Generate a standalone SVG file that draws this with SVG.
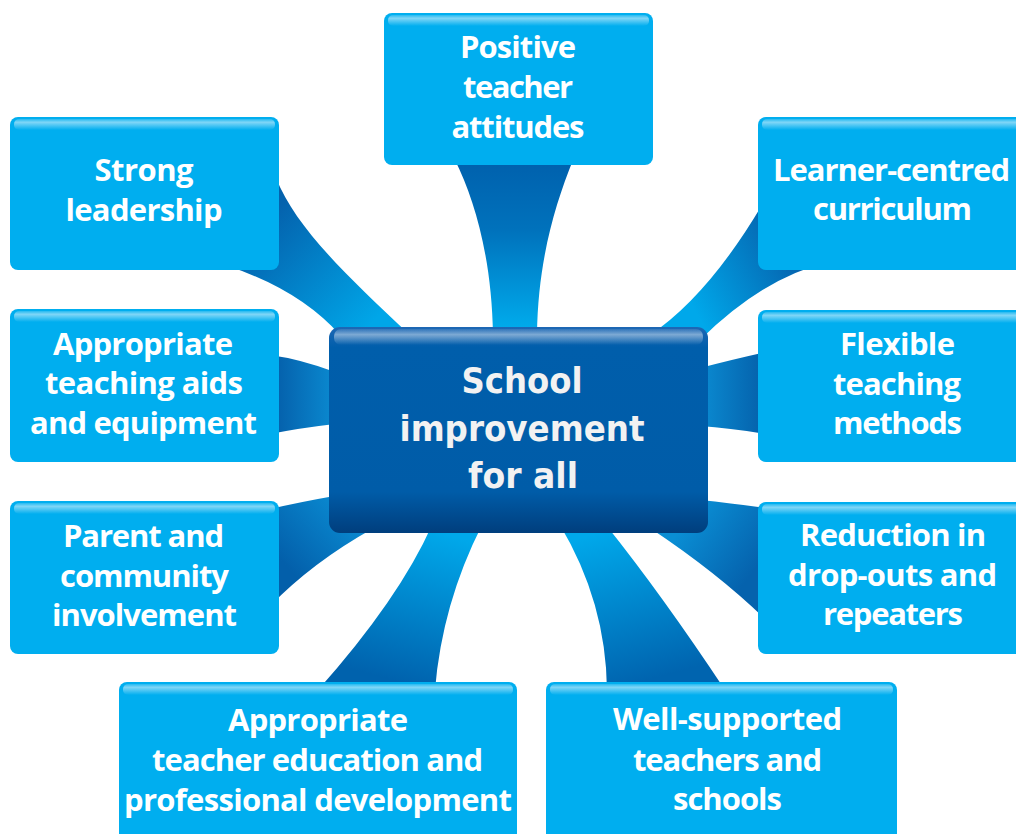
<svg xmlns="http://www.w3.org/2000/svg" width="1016" height="834" viewBox="0 0 1016 834">
<defs>
<style>
.box{fill:#00AEEF;}
.hl{fill:url(#hlg);}
.t{font-family:"Open Sans","Liberation Sans",sans-serif;font-weight:700;font-size:31px;fill:#FFFFFF;text-anchor:middle;}
.c{font-family:"DejaVu Sans","Liberation Sans",sans-serif;font-weight:700;font-size:35px;fill:#F2F2F2;text-anchor:middle;}
</style>
<linearGradient id="hlg" x1="0" y1="0" x2="0" y2="1">
<stop offset="0" stop-color="#FFFFFF" stop-opacity="0.15"/>
<stop offset="0.3" stop-color="#FFFFFF" stop-opacity="0.5"/>
<stop offset="1" stop-color="#FFFFFF" stop-opacity="0"/>
</linearGradient>
<linearGradient id="cg" x1="0" y1="0" x2="0" y2="1">
<stop offset="0" stop-color="#1E67B4"/>
<stop offset="0.1" stop-color="#005EAB"/>
<stop offset="0.8" stop-color="#005CA8"/>
<stop offset="1" stop-color="#003E7D"/>
</linearGradient>
<linearGradient id="chl" x1="0" y1="0" x2="0" y2="1">
<stop offset="0" stop-color="#FFFFFF" stop-opacity="0.1"/>
<stop offset="0.35" stop-color="#FFFFFF" stop-opacity="0.45"/>
<stop offset="1" stop-color="#FFFFFF" stop-opacity="0"/>
</linearGradient>
<linearGradient id="g1" gradientUnits="userSpaceOnUse" x1="0" y1="166" x2="0" y2="327">
<stop offset="0" stop-color="#0062AE"/><stop offset="0.4" stop-color="#0072BC"/><stop offset="1" stop-color="#00AAEB"/>
</linearGradient>
<linearGradient id="g2" gradientUnits="userSpaceOnUse" x1="270" y1="215" x2="375" y2="320">
<stop offset="0" stop-color="#0462AD"/><stop offset="1" stop-color="#00A6E8"/>
</linearGradient>
<linearGradient id="g3" gradientUnits="userSpaceOnUse" x1="279" y1="0" x2="329" y2="0">
<stop offset="0" stop-color="#0562AD"/><stop offset="1" stop-color="#0A86CD"/>
</linearGradient>
<linearGradient id="g4" gradientUnits="userSpaceOnUse" x1="285" y1="565" x2="350" y2="505">
<stop offset="0" stop-color="#035FAA"/><stop offset="1" stop-color="#0A8CD3"/>
</linearGradient>
<linearGradient id="g5" gradientUnits="userSpaceOnUse" x1="400" y1="682" x2="440" y2="533">
<stop offset="0" stop-color="#0062AD"/><stop offset="1" stop-color="#00A8EA"/>
</linearGradient>
<linearGradient id="g6" gradientUnits="userSpaceOnUse" x1="640" y1="682" x2="600" y2="533">
<stop offset="0" stop-color="#0064AF"/><stop offset="1" stop-color="#00A8EA"/>
</linearGradient>
<linearGradient id="g7" gradientUnits="userSpaceOnUse" x1="758" y1="565" x2="690" y2="515">
<stop offset="0" stop-color="#0562AD"/><stop offset="1" stop-color="#0A8ED4"/>
</linearGradient>
<linearGradient id="g8" gradientUnits="userSpaceOnUse" x1="758" y1="0" x2="708" y2="0">
<stop offset="0" stop-color="#0564AE"/><stop offset="1" stop-color="#0A86CD"/>
</linearGradient>
<linearGradient id="g9" gradientUnits="userSpaceOnUse" x1="800" y1="265" x2="700" y2="320">
<stop offset="0" stop-color="#0563AE"/><stop offset="1" stop-color="#00A8EA"/>
</linearGradient>
</defs>
<rect width="1016" height="834" fill="#FFFFFF"/>

<g id="connectors">
<path fill="url(#g1)" d="M455,160 C475,200 492,260 493,335 L537,335 C538,260 555,205 573,160 Z"/>
<path fill="url(#g2)" d="M276,178 C295,225 340,270 410,335 L340,335 Q300,290 228,266 L240,200 Z"/>
<path fill="url(#g3)" d="M270,355 Q300,359 335,372 L335,424 Q300,428 270,434 Z"/>
<path fill="url(#g4)" d="M270,509 Q300,502 340,495 L340,520 L372,529 Q313,562 270,606 Z"/>
<path fill="url(#g5)" d="M318,690 Q399,599 432,525 L482,525 Q442,604 435,690 Z"/>
<path fill="url(#g6)" d="M560,525 Q606,602 607,690 L725,690 Q662,595 606,525 Z"/>
<path fill="url(#g7)" d="M700,500 Q730,503 766,508 L766,620 Q719,574 650,528 Z"/>
<path fill="url(#g8)" d="M700,368 Q730,360 766,352 L766,434 Q730,428 700,426 Z"/>
<path fill="url(#g9)" d="M650,335 Q708,296 762,205 L830,262 Q765,276 700,340 Z"/>
</g>

<g id="center">
<rect x="329" y="327" width="379" height="206" rx="11" fill="url(#cg)"/>
<rect x="334" y="329" width="369" height="16" rx="7" fill="url(#chl)"/>
<text class="c" x="522" y="393" textLength="121" lengthAdjust="spacingAndGlyphs">School</text>
<text class="c" x="522" y="441" textLength="245" lengthAdjust="spacingAndGlyphs">improvement</text>
<text class="c" x="523" y="488" textLength="110" lengthAdjust="spacingAndGlyphs">for all</text>
</g>

<g id="n-positive">
<rect class="box" x="384" y="13" width="269" height="152" rx="8"/>
<rect class="hl" x="388" y="15" width="261" height="11" rx="5"/>
<text class="t" x="518" y="58" textLength="116" lengthAdjust="spacing">Positive</text>
<text class="t" x="518" y="98" textLength="110" lengthAdjust="spacing">teacher</text>
<text class="t" x="518" y="138" textLength="133" lengthAdjust="spacing">attitudes</text>
</g>

<g id="n-leadership">
<rect class="box" x="10" y="117" width="269" height="153" rx="8"/>
<rect class="hl" x="14" y="119" width="261" height="11" rx="5"/>
<text class="t" x="144" y="181" textLength="99" lengthAdjust="spacing">Strong</text>
<text class="t" x="144" y="221" textLength="157" lengthAdjust="spacing">leadership</text>
</g>

<g id="n-aids">
<rect class="box" x="10" y="309" width="269" height="153" rx="8"/>
<rect class="hl" x="14" y="311" width="261" height="11" rx="5"/>
<text class="t" x="143" y="355" textLength="180" lengthAdjust="spacing">Appropriate</text>
<text class="t" x="144" y="394" textLength="198" lengthAdjust="spacing">teaching aids</text>
<text class="t" x="143.5" y="434" textLength="227" lengthAdjust="spacing">and equipment</text>
</g>

<g id="n-parent">
<rect class="box" x="10" y="501" width="269" height="153" rx="8"/>
<rect class="hl" x="14" y="503" width="261" height="11" rx="5"/>
<text class="t" x="143.5" y="547" textLength="161" lengthAdjust="spacing">Parent and</text>
<text class="t" x="144.5" y="587" textLength="169" lengthAdjust="spacing">community</text>
<text class="t" x="144.5" y="626" textLength="185" lengthAdjust="spacing">involvement</text>
</g>

<g id="n-teacher-education">
<rect class="box" x="119" y="682" width="398" height="165" rx="8"/>
<rect class="hl" x="123" y="684" width="390" height="11" rx="5"/>
<text class="t" x="318" y="731" textLength="180" lengthAdjust="spacing">Appropriate</text>
<text class="t" x="317.5" y="771" textLength="331" lengthAdjust="spacing">teacher education and</text>
<text class="t" x="318" y="811" textLength="388" lengthAdjust="spacing">professional development</text>
</g>

<g id="n-learner">
<rect class="box" x="758" y="117" width="269" height="153" rx="8"/>
<rect class="hl" x="762" y="119" width="261" height="11" rx="5"/>
<text class="t" x="891.5" y="181" textLength="237" lengthAdjust="spacing">Learner-centred</text>
<text class="t" x="892.5" y="220" textLength="159" lengthAdjust="spacing">curriculum</text>
</g>

<g id="n-flexible">
<rect class="box" x="758" y="310" width="269" height="152" rx="8"/>
<rect class="hl" x="762" y="312" width="261" height="11" rx="5"/>
<text class="t" x="897.5" y="355" textLength="115" lengthAdjust="spacing">Flexible</text>
<text class="t" x="897" y="395" textLength="128" lengthAdjust="spacing">teaching</text>
<text class="t" x="897.5" y="434" textLength="129" lengthAdjust="spacing">methods</text>
</g>

<g id="n-reduction">
<rect class="box" x="758" y="502" width="269" height="152" rx="8"/>
<rect class="hl" x="762" y="504" width="261" height="11" rx="5"/>
<text class="t" x="893" y="546" textLength="186" lengthAdjust="spacing">Reduction in</text>
<text class="t" x="892.5" y="586" textLength="209" lengthAdjust="spacing">drop-outs and</text>
<text class="t" x="893" y="625" textLength="140" lengthAdjust="spacing">repeaters</text>
</g>

<g id="n-well-supported">
<rect class="box" x="546" y="682" width="351" height="165" rx="8"/>
<rect class="hl" x="550" y="684" width="343" height="11" rx="5"/>
<text class="t" x="727.5" y="730" textLength="229" lengthAdjust="spacing">Well-supported</text>
<text class="t" x="727.5" y="771" textLength="189" lengthAdjust="spacing">teachers and</text>
<text class="t" x="727.5" y="810" textLength="109" lengthAdjust="spacing">schools</text>
</g>
</svg>
